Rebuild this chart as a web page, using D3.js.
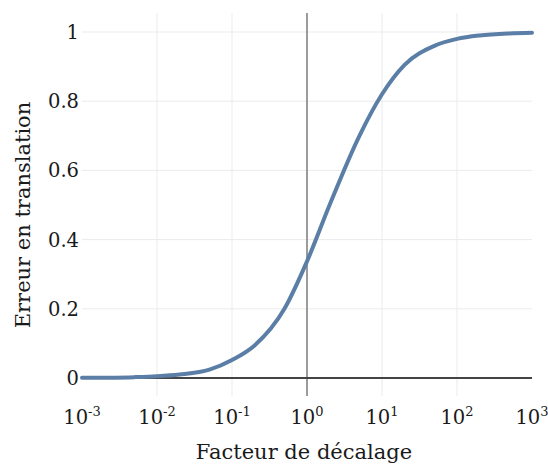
<!DOCTYPE html>
<html>
<head>
<meta charset="utf-8">
<script src="https://cdn.jsdelivr.net/npm/d3@7"></script>
<style>
  body { margin: 0; background: #fff; }
  svg { display: block; }
  text { font-family: "DejaVu Serif", serif; fill: #1a1a1a; }
</style>
</head>
<body>
<svg id="chart" width="548" height="465"></svg>
<script>
// data
const shift = [0.001, 0.002, 0.005, 0.01, 0.02, 0.05, 0.1, 0.2, 0.5, 1, 2, 5, 10, 20, 50, 100, 200, 500, 1000];
const error = [0.0005, 0.001, 0.0025, 0.005, 0.01, 0.024, 0.052, 0.094, 0.2, 0.337, 0.5, 0.7, 0.82, 0.905, 0.96, 0.98, 0.99, 0.996, 0.998];
const xTickExp = [-3, -2, -1, 0, 1, 2, 3];
const yTicks = [0, 0.2, 0.4, 0.6, 0.8, 1];

const svg = d3.select('#chart');

// plot box
const plotLeft = 82, plotRight = 532, plotTop = 13, plotBottom = 396;

const x = d3.scaleLog().domain([1e-3, 1e3]).range([plotLeft, plotRight]);
const y = d3.scaleLinear().domain([0, 1]).range([378, 32]);

// grid
const grid = svg.append('g');
grid.selectAll('.vgrid')
    .data(xTickExp.filter(e => e !== 0 && e !== -3 && e !== 3))
    .enter().append('line')
    .attr('x1', e => x(Math.pow(10, e)))
    .attr('x2', e => x(Math.pow(10, e)))
    .attr('y1', plotTop)
    .attr('y2', plotBottom)
    .attr('stroke', '#ebebeb')
    .attr('stroke-width', 1);

grid.selectAll('.hgrid')
    .data(yTicks.filter(v => v !== 0))
    .enter().append('line')
    .attr('x1', plotLeft)
    .attr('x2', plotRight)
    .attr('y1', d => y(d))
    .attr('y2', d => y(d))
    .attr('stroke', '#ebebeb')
    .attr('stroke-width', 1);

// zero lines
svg.append('line')
    .attr('x1', x(1)).attr('x2', x(1))
    .attr('y1', plotTop).attr('y2', plotBottom)
    .attr('stroke', '#7a7a7a')
    .attr('stroke-width', 1.5);

svg.append('line')
    .attr('x1', plotLeft).attr('x2', plotRight)
    .attr('y1', y(0)).attr('y2', y(0))
    .attr('stroke', '#444')
    .attr('stroke-width', 2);

// curve
const line = d3.line()
    .x((d, i) => x(shift[i]))
    .y(d => y(d))
    .curve(d3.curveMonotoneX);

svg.append('path')
    .datum(error)
    .attr('fill', 'none')
    .attr('stroke', '#5b7ea6')
    .attr('stroke-width', 4)
    .attr('stroke-linecap', 'round')
    .attr('d', line);

// x tick labels
const xl = svg.append('g').selectAll('text')
    .data(xTickExp)
    .enter().append('text')
    .attr('x', e => x(Math.pow(10, e)))
    .attr('y', 424)
    .attr('text-anchor', 'middle')
    .style('font-size', '19.5px');
xl.append('tspan').text('10');
xl.append('tspan')
    .attr('dy', -8)
    .style('font-size', '13px')
    .text(e => e);

// y tick labels
svg.append('g').selectAll('text')
    .data(yTicks)
    .enter().append('text')
    .attr('x', 79)
    .attr('y', d => y(d) + 7)
    .attr('text-anchor', 'end')
    .style('font-size', '19.5px')
    .text(d => d);

// axis titles
svg.append('text')
    .attr('x', 304)
    .attr('y', 459)
    .attr('text-anchor', 'middle')
    .style('font-size', '21px')
    .text('Facteur de décalage');

svg.append('text')
    .attr('transform', 'translate(30,215) rotate(-90)')
    .attr('text-anchor', 'middle')
    .style('font-size', '21px')
    .text('Erreur en translation');
</script>
</body>
</html>
